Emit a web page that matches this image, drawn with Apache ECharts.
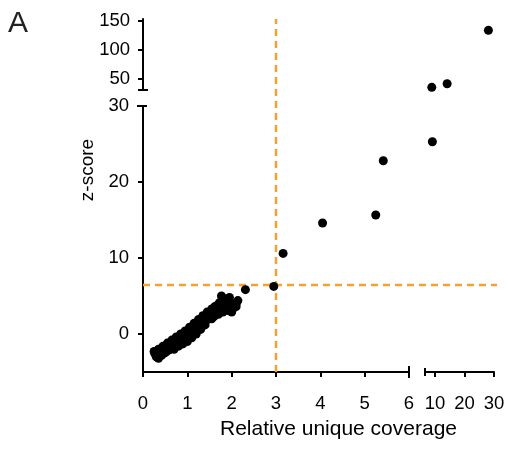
<!DOCTYPE html>
<html><head><meta charset="utf-8">
<script src="https://cdn.jsdelivr.net/npm/echarts@6/dist/echarts.min.js"></script>
<style>html,body{margin:0;padding:0;background:#fff}#c{width:508px;height:450px}</style>
</head><body><div id="c"></div>
<script>
// Dense cluster of points (relative unique coverage, z-score)
const clusterCoverage = [0.27,0.31,0.34,0.36,0.40,0.42,0.45,0.48,0.50,0.53,0.55,0.58,0.60,0.63,0.65,0.68,0.70,0.73,0.75,0.78,0.80,0.83,0.85,0.88,0.90,0.93,0.95,0.98,1.00,1.03,1.05,1.08,1.10,1.12,1.15,1.18,1.20,1.22,1.25,1.28,1.30,1.32,1.35,1.38,1.40,1.42,1.45,1.47,1.50,1.52,1.55,1.57,1.60,1.62,1.65,1.68,1.70,1.72,1.75,1.77,1.80,1.82,1.85,1.88,1.90,1.95,1.98,2.00,2.03,2.06,2.10,2.14,1.62,1.55,1.35,0.85,
  0.25,0.35,0.45,0.55,0.65,0.75,0.85,0.95,1.05,1.15,1.25,1.35,1.45,1.55,1.65,1.72,1.85,
  0.30,0.35,0.40,0.50,0.60,0.70,0.80,0.90,1.00,1.10,1.20,1.30,1.40,1.50,1.60,1.70,1.80,1.90,2.00,2.05,2.10,
  0.70,0.80,0.90,1.00,1.10,1.20,1.30,1.40];
const clusterZ        = [-2.6,-2.9,-3.1,-2.7,-2.4,-2.8,-2.2,-2.5,-2.0,-2.3,-1.8,-2.1,-1.6,-1.9,-1.4,-1.6,-1.2,-1.5,-1.0,-1.3,-0.8,-1.0,-0.6,-0.8,-0.4,-0.6,-0.1,-0.3,0.1,-0.1,0.4,0.3,0.7,0.5,0.9,0.7,1.2,0.9,1.4,1.2,1.7,1.4,1.9,1.6,2.2,1.8,2.5,2.0,2.8,2.3,3.0,2.5,3.2,2.7,3.4,2.9,3.6,3.1,3.8,5.0,3.3,4.1,3.6,4.3,3.2,4.8,3.8,2.9,3.4,4.0,3.6,4.4,3.6,2.0,1.3,-0.9,
  -2.3,-2.0,-1.6,-1.2,-0.8,-0.4,0.0,0.4,0.9,1.4,1.9,2.4,2.9,3.3,3.7,4.1,4.6,
  -3.0,-3.2,-2.8,-2.4,-2.0,-1.6,-1.2,-0.7,-0.2,0.3,0.8,1.2,1.6,2.0,2.3,2.6,2.9,3.1,3.0,3.5,3.9,
  -2.0,-1.6,-1.3,-1.0,-0.5,0.0,0.6,1.2];
// Outlying points
const outlierCoverage = [2.31,2.95,3.16,4.05,5.25,5.42,9.1,8.9,14.1,28.1];
const outlierZ        = [5.83,6.26,10.6,14.6,15.66,22.8,25.3,34.6,40.8,133.4];
// Axes
const xTicksLow  = [0,1,2,3,4,5,6];
const xTicksHigh = [10,20,30];
const yTicksLow  = [0,10,20,30];
const yTicksHigh = [50,100,150];
const xRangeLow  = [0, 6];
const xRangeHigh = [6.6, 30];
const yRangeLow  = [-5, 30];
const yRangeHigh = [30, 153];
// Cut-offs
const cutoffCoverage = 3;
const cutoffZ = 6.45;

const FONT = '"Liberation Sans", Arial, sans-serif';
const chart = echarts.init(document.getElementById('c'), null, {renderer:'canvas'});

const buckets = [[],[],[],[]];
function place(x, y){
  const gx = x <= xRangeLow[1] ? 0 : 1;
  const gy = y <= yRangeLow[1] ? 0 : 1;
  buckets[gy*2 + gx].push([x, y]);
}
clusterCoverage.forEach((x,i)=>place(x, clusterZ[i]));
outlierCoverage.forEach((x,i)=>place(x, outlierZ[i]));

const lineStyle = {color:'#000', width:2};
const tick = (vals)=>({show:true, inside:false, length:5, lineStyle:{color:'#000', width:2}, customValues: vals});
const label = (vals, margin)=>({show:true, color:'#000', fontSize:18.5, fontFamily:FONT, margin, customValues: vals});

const grids = [
  {left:143, top:106, width:266, height:266},
  {left:425, top:106, width:69,  height:266},
  {left:143, top:19,  width:266, height:71},
  {left:425, top:19,  width:69,  height:71}
];

const xAxes = [
  {gridIndex:0, type:'value', min:xRangeLow[0], max:xRangeLow[1], axisLine:{show:true, onZero:false, lineStyle}, axisTick:tick(xTicksLow), axisLabel:label(xTicksLow, 22), splitLine:{show:false}},
  {gridIndex:1, type:'value', min:xRangeHigh[0], max:xRangeHigh[1], axisLine:{show:true, onZero:false, lineStyle}, axisTick:tick(xTicksHigh), axisLabel:label(xTicksHigh, 22), splitLine:{show:false}},
  {gridIndex:2, type:'value', min:xRangeLow[0], max:xRangeLow[1], show:false},
  {gridIndex:3, type:'value', min:xRangeHigh[0], max:xRangeHigh[1], show:false}
];
const yAxes = [
  {gridIndex:0, type:'value', min:yRangeLow[0], max:yRangeLow[1], axisLine:{show:true, onZero:false, lineStyle}, axisTick:tick(yTicksLow), axisLabel:label(yTicksLow, 14), splitLine:{show:false}},
  {gridIndex:1, type:'value', min:yRangeLow[0], max:yRangeLow[1], show:false},
  {gridIndex:2, type:'value', min:yRangeHigh[0], max:yRangeHigh[1], axisLine:{show:true, onZero:false, lineStyle}, axisTick:tick(yTicksHigh), axisLabel:label(yTicksHigh, 13), splitLine:{show:false}},
  {gridIndex:3, type:'value', min:yRangeHigh[0], max:yRangeHigh[1], show:false}
];

const series = buckets.map((d,i)=>({
  type:'scatter', xAxisIndex:i, yAxisIndex:i, data:d, symbolSize:9,
  itemStyle:{color:'#000', opacity:1}, z:3, silent:true
}));

chart.setOption({
  animation:false,
  grid:grids, xAxis:xAxes, yAxis:yAxes, series
});

const p = (g, v)=>chart.convertToPixel({gridIndex:g}, v);
const orange = '#F4A134';
const dashStyle = {stroke:orange, lineWidth:2.5, lineDash:[7,5]};
const vBot = p(0, [cutoffCoverage, yRangeLow[0]]);
const vTop = p(2, [cutoffCoverage, yRangeHigh[1]]);
const hL = p(0, [xRangeLow[0], cutoffZ]);
const hR = p(1, [xRangeHigh[1], cutoffZ]);
const c6 = p(0, [xRangeLow[1], yRangeLow[0]]);
const cR = p(1, [xRangeHigh[0], yRangeLow[0]]);
const c30 = p(0, [xRangeLow[0], yRangeLow[1]]);
const cU = p(2, [xRangeLow[0], yRangeHigh[0]]);
const capStyle = {stroke:'#000', lineWidth:2};

chart.setOption({graphic:[
  {type:'line', z:2, shape:{x1:vBot[0], y1:vBot[1], x2:vTop[0], y2:vTop[1]}, style:dashStyle, silent:true},
  {type:'line', z:2, shape:{x1:hL[0], y1:hL[1], x2:hR[0]+3, y2:hR[1]}, style:dashStyle, silent:true},
  {type:'line', z:4, shape:{x1:c6[0], y1:c6[1]-6, x2:c6[0], y2:c6[1]+6}, style:capStyle, silent:true},
  {type:'line', z:4, shape:{x1:cR[0], y1:cR[1]-4, x2:cR[0], y2:cR[1]+4}, style:capStyle, silent:true},
  {type:'line', z:4, shape:{x1:c30[0]-6, y1:c30[1], x2:c30[0]+4, y2:c30[1]}, style:capStyle, silent:true},
  {type:'line', z:4, shape:{x1:cU[0]-5, y1:cU[1], x2:cU[0]+5, y2:cU[1]}, style:capStyle, silent:true},
  {type:'text', x:8, y:24, style:{text:'A', fontSize:30, fontFamily:FONT, fill:'#222', verticalAlign:'middle'}, silent:true},
  {type:'text', x:88, y:170, rotation:Math.PI/2, style:{text:'z-score', fontSize:19, fontFamily:FONT, fill:'#000', align:'center', verticalAlign:'middle'}, silent:true},
  {type:'text', x:338.5, y:429, style:{text:'Relative unique coverage', fontSize:21, fontFamily:FONT, fill:'#000', align:'center', verticalAlign:'middle'}, silent:true}
]});
</script></body></html>
